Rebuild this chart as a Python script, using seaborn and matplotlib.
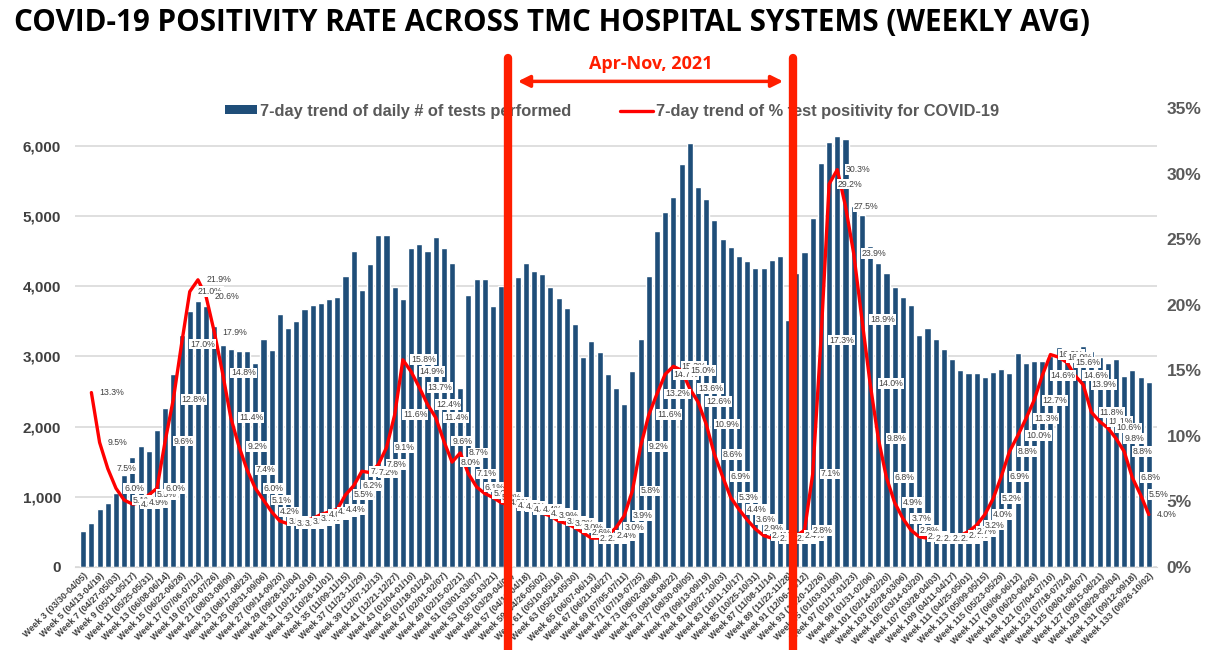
import numpy as np
import pandas as pd
import matplotlib
matplotlib.use("Agg")
import matplotlib.pyplot as plt
from matplotlib.patches import Patch
from matplotlib.lines import Line2D
from matplotlib.ticker import FuncFormatter, MultipleLocator
import seaborn as sns

# ---------------- data ----------------
weeks = list(range(3, 134))  # Week 3 .. Week 133
week_start_first = "2020-03-30"

tests = [516, 634, 830, 906, 1056, 1310, 1563, 1728, 1657, 1948,
         2268, 2746, 3313, 3654, 3787, 3720, 3441, 3166, 3109, 3076,
         3076, 2905, 3246, 3090, 3607, 3403, 3502, 3673, 3730, 3768,
         3820, 3848, 4142, 4507, 3948, 4318, 4735, 4735, 3986, 3820,
         4540, 4602, 4507, 4706, 4545, 4327, 2550, 3877, 4100, 4100,
         3716, 4005, 4060, 4137, 4332, 4223, 4171, 3995, 3834, 3687,
         3464, 2990, 3227, 3057, 2754, 2550, 2318, 2791, 3251, 4152,
         4791, 5052, 5275, 5739, 6038, 5417, 5242, 4948, 4673, 4564,
         4436, 4365, 4261, 4256, 4374, 4436, 3521, 4185, 4483, 4972,
         5763, 6057, 6142, 6095, 5147, 5014, 4578, 4330, 4185, 3995,
         3843, 3735, 3300, 3408, 3246, 3109, 2971, 2805, 2758, 2758,
         2701, 2782, 2825, 2768, 3043, 2910, 2938, 2938, 3005, 3137,
         3090, 3100, 3156, 3076, 2986, 2910, 2957, 2720, 2805, 2711,
         2630]

# positivity (%) starts at the 2nd week shown (Week 4)
positivity = [13.3, 9.5, 7.5, 6.0, 5.1, 4.8, 4.9, 5.5, 6.0, 9.6,
              12.8, 17.0, 21.0, 21.9, 20.6, 17.9, 14.8, 11.4, 9.2, 7.4,
              6.0, 5.1, 4.2, 3.5, 3.3, 3.3, 3.5, 3.7, 4.0, 4.2,
              4.4, 5.5, 6.2, 7.3, 7.2, 7.8, 9.1, 11.6, 15.8, 14.9,
              13.7, 12.4, 11.4, 9.6, 8.0, 8.7, 7.1, 6.1, 5.6, 5.3,
              4.9, 4.7, 4.6, 4.4, 4.4, 4.1, 3.9, 3.5, 3.3, 3.0,
              2.6, 2.2, 2.2, 2.4, 3.0, 3.9, 5.8, 9.2, 11.6, 13.2,
              14.7, 15.3, 15.0, 13.6, 12.6, 10.9, 8.6, 6.9, 5.3, 4.4,
              3.6, 2.9, 2.4, 2.2, 2.2, 2.2, 2.4, 2.8, 7.1, 17.3,
              29.2, 30.3, 27.5, 23.9, 18.9, 14.0, 9.8, 6.8, 4.9, 3.7,
              2.8, 2.3, 2.2, 2.2, 2.2, 2.2, 2.4, 2.7, 3.2, 4.0,
              5.2, 6.9, 8.8, 10.0, 11.3, 12.7, 14.6, 16.2, 16.0, 15.6,
              14.6, 13.9, 11.8, 11.1, 10.6, 9.8, 8.8, 6.8, 5.5, 4.0]

starts = pd.date_range(week_start_first, periods=len(weeks), freq="7D")
week_labels = [f"Week {w} ({s:%m/%d}-{(s + pd.Timedelta(days=6)):%m/%d})"
               for w, s in zip(weeks, starts)]

title = "COVID-19 POSITIVITY RATE ACROSS TMC HOSPITAL SYSTEMS (WEEKLY AVG)"
bar_label = "7-day trend of daily # of tests performed"
line_label = "7-day trend of % test positivity for COVID-19"
period_label = "Apr-Nov, 2021"
period_bounds = (51.83, 86.59)   # marker lines (in week-slot units)

BLUE = "#1F4E79"
RED = "#FF0000"
MARK = "#FF1E00"
GRAY = "#595959"

# ---------------- plot ----------------
sns.set_style("white")
plt.rcParams["font.family"] = ["Liberation Sans", "DejaVu Sans"]

fig = plt.figure(figsize=(12.07, 6.5), dpi=100)
ax = fig.add_axes([75 / 1207, 1 - 567 / 650, (1157 - 75) / 1207, (567 - 108) / 650])

df = pd.DataFrame({"pos": np.arange(len(tests)), "tests": tests})
sns.barplot(data=df, x="pos", y="tests", color=BLUE, saturation=1,
            width=0.74, ax=ax, zorder=2)
ax.set_xlim(-1, len(tests))
ax.set_ylim(0, 6541)
ax.yaxis.set_major_locator(MultipleLocator(1000))
ax.yaxis.set_major_formatter(FuncFormatter(lambda v, p: f"{int(v):,}"))
ax.grid(axis="y", color="#D9D9D9", lw=1.2, zorder=0)
ax.set_axisbelow(True)
for s in ["top", "right", "left"]:
    ax.spines[s].set_visible(False)
ax.spines["bottom"].set_color("#D9D9D9")
ax.set_xlabel("")
ax.set_ylabel("")
ax.set_xticks(np.arange(0, len(tests), 2))
ax.set_xticklabels(week_labels[::2], rotation=45, ha="right",
                   rotation_mode="anchor", fontsize=6.4, fontweight="bold",
                   color="#404040")
ax.tick_params(axis="x", length=0, pad=3)
ax.tick_params(axis="y", length=0, labelsize=11, labelcolor="#404040", pad=10)
for t in ax.get_yticklabels():
    t.set_fontweight("bold")

ax2 = ax.twinx()
ldf = pd.DataFrame({"pos": np.arange(1, len(tests)), "pct": positivity})
sns.lineplot(data=ldf, x="pos", y="pct", color=RED, lw=2.4, ax=ax2, zorder=3)
ax2.set_ylim(0, 35)
ax2.set_xlim(-1, len(tests))
ax2.yaxis.set_major_locator(MultipleLocator(5))
ax2.yaxis.set_major_formatter(FuncFormatter(lambda v, p: f"{int(v)}%"))
ax2.tick_params(axis="y", length=0, labelsize=12.5, labelcolor=GRAY, pad=7)
for t in ax2.get_yticklabels():
    t.set_fontweight("bold")
for s in ["top", "right", "left", "bottom"]:
    ax2.spines[s].set_visible(False)
ax2.set_ylabel("")
ax2.set_xlabel("")

for x, v in zip(ldf["pos"], ldf["pct"]):
    ax2.annotate(f"{v:.1f}%", (x, v), xytext=(6, 0), textcoords="offset points",
                 ha="left", va="center", fontsize=6.3, color="#404040",
                 bbox=dict(boxstyle="square,pad=0.1", fc="white", ec="none"),
                 zorder=6)

handles = [Patch(facecolor=BLUE, edgecolor="none"),
           Line2D([0], [0], color=RED, lw=2.4)]
leg = ax2.legend(handles, [bar_label, line_label], loc="center",
                 bbox_to_anchor=(0.496, 0.993), ncol=2, frameon=False,
                 handlelength=2.0, handleheight=0.45, columnspacing=3.0,
                 handletextpad=0.15,
                 prop={"size": 11.8, "weight": "bold"})
for t in leg.get_texts():
    t.set_color(GRAY)
leg.set_zorder(5)

# period markers
for xb in period_bounds:
    ax2.axvline(xb, ymin=-0.181, ymax=1.11, color=MARK, lw=6, clip_on=False, zorder=10)
ax2.annotate("", xy=(period_bounds[0] + 1.2, 1.058), xycoords=("data", "axes fraction"),
             xytext=(period_bounds[1] - 1.2, 1.058), textcoords=("data", "axes fraction"),
             arrowprops=dict(arrowstyle="<|-|>,head_length=0.7,head_width=0.35",
                             color=MARK, lw=2.5, shrinkA=0, shrinkB=0),
             annotation_clip=False)
ax2.text(sum(period_bounds) / 2, 1.095, period_label, transform=ax2.get_xaxis_transform(),
         ha="center", va="center", color=MARK, fontsize=13, fontweight="bold",
         family=["Open Sans", "DejaVu Sans"])

fig.text(14 / 1207, 1 - 23 / 650, title, ha="left", va="center", fontsize=21.3,
         fontweight="bold", color="black", family=["Open Sans", "DejaVu Sans"])

fig.savefig("out.png", dpi=100)
